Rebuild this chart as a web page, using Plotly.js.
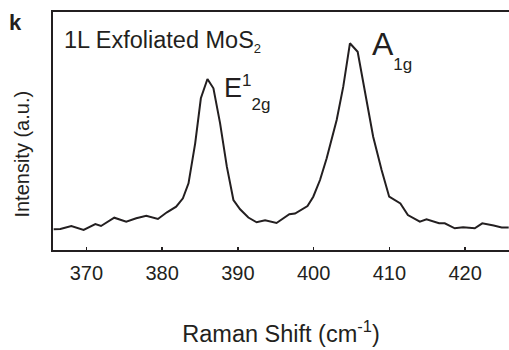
<!DOCTYPE html>
<html>
<head>
<meta charset="utf-8">
<script src="https://cdn.plot.ly/plotly-3.0.1.min.js"></script>
<style>
  html, body { margin: 0; padding: 0; background: #ffffff; }
  #chart { width: 509px; height: 350px; }
</style>
</head>
<body>
<div id="chart"></div>
<script>
// Raman shift (cm^-1)
const ramanShift = [
  365.69, 366.57, 368.02, 369.64, 371.19, 371.94, 373.69, 375.27, 376.59, 377.91,
  379.45, 380.64, 381.86, 382.75, 383.49, 384.37, 385.12, 385.99, 386.78, 387.66,
  388.55, 389.42, 390.30, 391.39, 392.48, 393.60, 395.11, 396.80, 397.55, 398.21,
  399.20, 399.96, 400.41, 400.85, 401.73, 403.05, 403.92, 404.80, 405.82, 406.78,
  407.87, 408.98, 409.98, 411.46, 412.45, 414.03, 414.91, 416.57, 417.32, 418.64,
  419.74, 421.28, 422.27, 423.78, 424.84, 425.76
];
// Intensity (arbitrary units)
const intensity = [
  207, 210, 240, 200, 260, 240, 323, 283, 317, 343,
  310, 377, 433, 517, 667, 1067, 1517, 1710, 1617, 1267,
  833, 500, 407, 325, 277, 298, 270, 358, 365, 395,
  440, 533, 617, 700, 917, 1300, 1633, 2067, 1983, 1567,
  1133, 800, 533, 465, 350, 283, 307, 267, 267, 217,
  227, 217, 267, 245, 225, 225
];
const xTickValues = [370, 380, 390, 400, 410, 420];
const xTickLabels = ['370', '380', '390', '400', '410', '420'];

const FONT = 'Arial, "Liberation Sans", sans-serif';
const INK = '#231f20';

const trace = {
  x: ramanShift,
  y: intensity,
  type: 'scatter',
  mode: 'lines',
  line: { color: INK, width: 2 },
  hoverinfo: 'skip'
};

const layout = {
  width: 509,
  height: 350,
  margin: { l: 53, r: 0, t: 12, b: 100 },
  paper_bgcolor: '#ffffff',
  plot_bgcolor: '#ffffff',
  showlegend: false,
  font: { family: FONT, color: INK, size: 20 },
  xaxis: {
    range: [365.6, 425.8],
    tickvals: xTickValues,
    ticktext: xTickLabels,
    ticks: 'inside',
    ticklen: 3,
    tickwidth: 1.5,
    tickcolor: INK,
    ticklabelstandoff: 4,
    showline: true,
    linecolor: INK,
    linewidth: 1.6,
    mirror: true,
    showgrid: false,
    zeroline: false,
    tickfont: { family: FONT, size: 20, color: INK },
    title: { text: 'Raman Shift (cm<sup>-1</sup>)', font: { family: FONT, size: 23.5, color: INK }, standoff: 43 }
  },
  yaxis: {
    range: [0, 2380],
    showticklabels: false,
    ticks: '',
    showline: true,
    linecolor: INK,
    linewidth: 1.6,
    showgrid: false,
    zeroline: false
  },
  annotations: [
    { text: 'Intensity (a.u.)', xref: 'paper', yref: 'paper', x: -0.068, y: 0.405, xanchor: 'center', yanchor: 'middle', textangle: -90, showarrow: false, font: { family: FONT, size: 20, color: INK } },
    { text: '<b>k</b>', xref: 'paper', yref: 'paper', x: -0.1, y: 0.954, xanchor: 'left', yanchor: 'middle', showarrow: false, font: { family: FONT, size: 22, color: INK } },
    { text: '1L Exfoliated MoS<sub><span style="font-size:13px">2</span></sub>', xref: 'paper', yref: 'paper', x: 0.019, y: 0.878, xanchor: 'left', yanchor: 'middle', showarrow: false, font: { family: FONT, size: 23.5, color: INK } },
    { text: 'E<sup><span style="font-size:17px">1</span></sup><sub><sub><sub><span style="font-size:17px">2g</span></sub></sub></sub>', xref: 'paper', yref: 'paper', x: 0.37, y: 0.663, xanchor: 'left', yanchor: 'middle', showarrow: false, font: { family: FONT, size: 27, color: INK } },
    { text: 'A<sub><sub><sub><span style="font-size:17px">1g</span></sub></sub></sub>', xref: 'paper', yref: 'paper', x: 0.695, y: 0.84, xanchor: 'left', yanchor: 'middle', showarrow: false, font: { family: FONT, size: 32, color: INK } }
  ]
};

Plotly.newPlot('chart', [trace], layout, { displayModeBar: false, staticPlot: true });
</script>
</body>
</html>
